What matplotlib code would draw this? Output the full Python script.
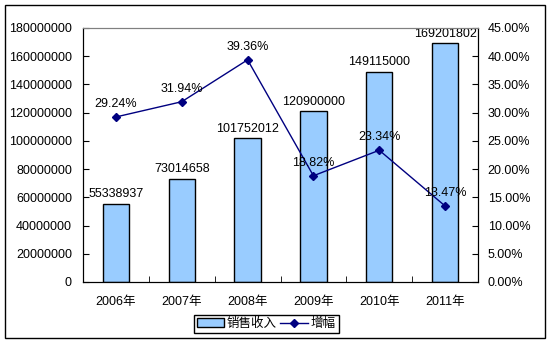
import matplotlib
matplotlib.use("Agg")
import matplotlib.pyplot as plt
from matplotlib.patches import Rectangle
from matplotlib.ticker import FuncFormatter, MultipleLocator
import numpy as np

plt.rcParams['font.family'] = ['Liberation Sans', 'Noto Sans CJK SC']
plt.rcParams['font.size'] = 9

years = ["2006年", "2007年", "2008年", "2009年", "2010年", "2011年"]
revenue = [55338937, 73014658, 101752012, 120900000, 149115000, 169201802]
growth = [0.2924, 0.3194, 0.3936, 0.1882, 0.2334, 0.1347]

fig = plt.figure(figsize=(5.53, 3.45), dpi=100)
ax = fig.add_axes([83 / 553, 1 - 282 / 345, 395 / 553, 254 / 345])
ax2 = ax.twinx()

x = np.arange(len(years))
bars = ax.bar(x, revenue, width=0.4, color="#99CCFF", edgecolor="black",
              linewidth=1, label="销售收入", zorder=2)
for xi, v in zip(x, revenue):
    ax.text(xi, v + 2500000, str(v), ha="center", va="bottom", fontsize=9)

ax.set_xlim(-0.5, len(years) - 0.5)
ax.set_ylim(0, 180000000)
ax.yaxis.set_major_locator(MultipleLocator(20000000))
ax.yaxis.set_major_formatter(FuncFormatter(lambda v, p: "%d" % v))
ax.set_xticks(x)
ax.set_xticklabels(years)
ax.set_xticks(np.arange(len(years) + 1) - 0.5, minor=True)
ax.tick_params(axis="x", which="major", length=0, pad=10)
ax.tick_params(axis="x", which="minor", direction="in", length=4)
ax.tick_params(axis="y", direction="in", length=4, pad=8)

line, = ax2.plot(x, growth, color="#000080", marker="D", markersize=4.5,
                 linewidth=1, label="增幅", zorder=3)
for xi, g in zip(x, growth):
    ax2.text(xi, g + 0.012, "%.2f%%" % (g * 100), ha="center", va="bottom",
             fontsize=9)
ax2.set_ylim(0, 0.45)
ax2.yaxis.set_major_locator(MultipleLocator(0.05))
ax2.yaxis.set_major_formatter(FuncFormatter(lambda v, p: "%.2f%%" % (v * 100)))
ax2.tick_params(axis="y", direction="in", length=4, pad=7)

for a in (ax, ax2):
    for s in ("left", "right", "bottom"):
        a.spines[s].set_color("black")
    a.spines["top"].set_color("#808080")

fig.legend([bars, line], ["销售收入", "增幅"], loc="center",
           bbox_to_anchor=(266 / 553, 1 - 324 / 345), ncol=2, frameon=True,
           fancybox=False, edgecolor="black", framealpha=1,
           handlelength=2.2, handletextpad=0.2, columnspacing=0.3,
           borderpad=0.25, borderaxespad=0, fontsize=9)

fig.patches.append(Rectangle((5 / 553, 1 - 338 / 345), 540 / 553, 333 / 345,
                             transform=fig.transFigure, fill=False,
                             edgecolor="black", linewidth=1))

fig.savefig("out.png", dpi=100)
